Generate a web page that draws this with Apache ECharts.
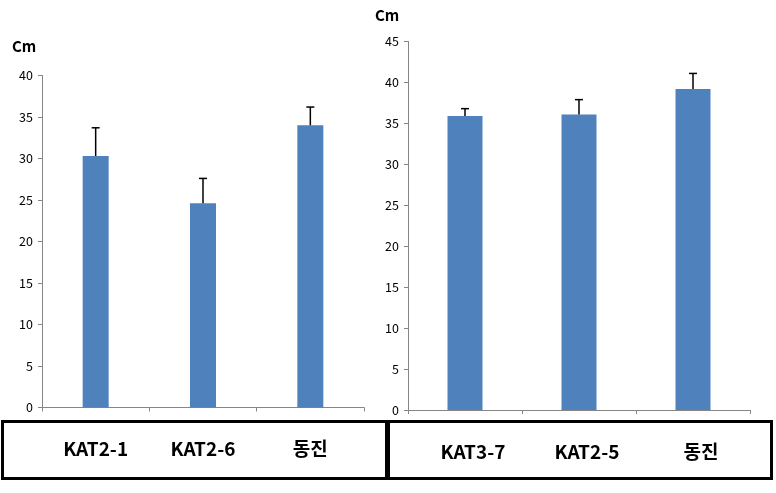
<!DOCTYPE html>
<html><head><meta charset="utf-8">
<script src="https://cdn.jsdelivr.net/npm/echarts@6/dist/echarts.min.js"></script>
<style>html,body{margin:0;padding:0;background:#fff}#c{width:776px;height:493px}</style>
</head><body><div id="c"></div>
<script>
const leftCategories = ['KAT2-1', 'KAT2-6', '동진'];
const leftValues = [30.3, 24.6, 34.0];
const leftErrTop = [33.7, 27.6, 36.2];
const leftTicks = [0, 5, 10, 15, 20, 25, 30, 35, 40];

const rightCategories = ['KAT3-7', 'KAT2-5', '동진'];
const rightValues = [35.9, 36.1, 39.2];
const rightErrTop = [36.8, 37.9, 41.1];
const rightTicks = [0, 5, 10, 15, 20, 25, 30, 35, 40, 45];

const unitLabel = 'Cm';

const chart = echarts.init(document.getElementById('c'), null, {renderer: 'canvas'});
const font = '"Noto Sans CJK KR", "Noto Sans", sans-serif';
const axisGray = '#868686';

function errItem(params, api) {
  const i = api.value(0);
  const top = api.coord([i, api.value(1)]);
  const base = api.coord([i, api.value(2)]);
  const half = 4;
  const style = {stroke: '#000', lineWidth: 1.5};
  return {type: 'group', children: [
    {type: 'line', shape: {x1: top[0], y1: top[1], x2: base[0], y2: base[1]}, style: style},
    {type: 'line', shape: {x1: top[0] - half, y1: top[1], x2: top[0] + half, y2: top[1]}, style: style}
  ]};
}

function xAxisCfg(cats, gi, pad) {
  return {
    type: 'category', gridIndex: gi, data: cats,
    axisLine: {lineStyle: {color: axisGray, width: 1}},
    axisTick: {show: true, length: 4, lineStyle: {color: axisGray}},
    axisLabel: {margin: 32, fontFamily: font, fontSize: 19, fontWeight: 'bold', color: '#000', padding: pad}
  };
}
function yAxisCfg(ticks, gi) {
  return {
    type: 'value', gridIndex: gi, min: ticks[0], max: ticks[ticks.length - 1], interval: ticks[1] - ticks[0],
    axisLine: {show: true, lineStyle: {color: axisGray, width: 1}},
    axisTick: {show: true, length: 4, lineStyle: {color: axisGray}},
    splitLine: {show: false},
    axisLabel: {margin: 9, fontFamily: font, fontSize: 12.5, color: '#000'}
  };
}

chart.setOption({
  backgroundColor: '#fff',
  animation: false,
  grid: [
    {left: 42, right: 412, top: 75.5, bottom: 85.5},
    {left: 408, right: 26, top: 41.5, bottom: 83}
  ],
  xAxis: [xAxisCfg(leftCategories, 0, [0, 0, 0, 0]), xAxisCfg(rightCategories, 1, [0, 0, 0, 16])],
  yAxis: [yAxisCfg(leftTicks, 0), yAxisCfg(rightTicks, 1)],
  graphic: [
    {type: 'rect', shape: {x: 2.5, y: 421.5, width: 384, height: 57}, style: {fill: 'none', stroke: '#000', lineWidth: 3}, z: 100},
    {type: 'rect', shape: {x: 388.5, y: 421.5, width: 383, height: 57}, style: {fill: 'none', stroke: '#000', lineWidth: 3}, z: 100},
    {type: 'text', left: 12, top: 39, style: {text: unitLabel, font: 'bold 15px ' + font, fill: '#000'}},
    {type: 'text', left: 375, top: 8, style: {text: unitLabel, font: 'bold 15px ' + font, fill: '#000'}}
  ],
  series: [
    {type: 'bar', xAxisIndex: 0, yAxisIndex: 0, data: leftValues, barWidth: 26, itemStyle: {color: '#4f81bd'}},
    {type: 'bar', xAxisIndex: 1, yAxisIndex: 1, data: rightValues, barWidth: 35, itemStyle: {color: '#4f81bd'}},
    {type: 'custom', xAxisIndex: 0, yAxisIndex: 0, renderItem: errItem, z: 10,
      data: leftValues.map((v, i) => [i, leftErrTop[i], v])},
    {type: 'custom', xAxisIndex: 1, yAxisIndex: 1, renderItem: errItem, z: 10,
      data: rightValues.map((v, i) => [i, rightErrTop[i], v])}
  ]
});
</script></body></html>
